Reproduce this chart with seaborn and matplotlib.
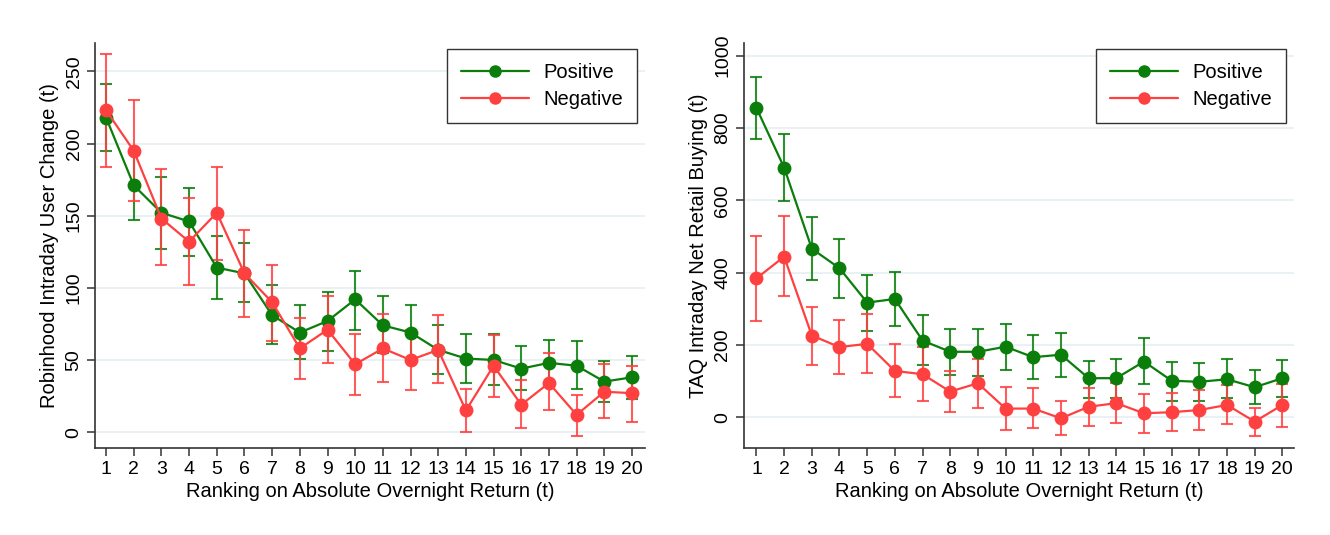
import numpy as np
import pandas as pd
import matplotlib
matplotlib.use("Agg")
import matplotlib.pyplot as plt
import seaborn as sns

# ---------------- data ----------------
ranks = list(range(1, 21))

rh_pos = [218, 171, 152, 146, 114, 110, 81, 69, 77, 92, 74, 69, 57, 51, 50, 44, 48, 46, 35, 38]
rh_pos_lo = [195, 147, 127, 122, 92, 90, 61, 51, 56, 71, 55, 50, 40, 34, 33, 29, 31, 30, 21, 23]
rh_pos_hi = [241, 195, 177, 169, 136, 131, 102, 88, 97, 112, 94, 88, 74, 68, 68, 60, 64, 63, 49, 53]
rh_neg = [223, 195, 148, 132, 152, 110, 90, 58, 71, 47, 58, 50, 57, 15, 46, 19, 34, 12, 28, 27]
rh_neg_lo = [184, 160, 116, 102, 119, 80, 63, 37, 48, 26, 35, 29, 34, 0, 24, 3, 15, -3, 10, 7]
rh_neg_hi = [262, 230, 182, 162, 184, 140, 116, 79, 94, 68, 82, 71, 81, 30, 67, 36, 55, 26, 47, 46]

taq_pos = [855, 690, 466, 412, 317, 327, 212, 181, 181, 195, 166, 173, 108, 108, 154, 101, 98, 105, 83, 108]
taq_pos_lo = [769, 598, 380, 331, 239, 253, 144, 117, 114, 131, 105, 112, 53, 54, 92, 46, 45, 53, 36, 57]
taq_pos_hi = [940, 782, 553, 494, 394, 401, 282, 245, 245, 258, 228, 232, 156, 162, 218, 154, 151, 160, 131, 158]
taq_neg = [384, 444, 226, 194, 203, 128, 119, 71, 94, 24, 24, -3, 29, 39, 11, 14, 20, 34, -12, 34]
taq_neg_lo = [266, 334, 145, 120, 123, 55, 45, 15, 26, -35, -30, -49, -23, -17, -43, -38, -35, -19, -52, -26]
taq_neg_hi = [502, 555, 306, 269, 285, 203, 194, 128, 161, 83, 80, 45, 80, 94, 65, 66, 76, 89, 25, 91]

series_names = ["Positive", "Negative"]
x_label = "Ranking on Absolute Overnight Return (t)"
y_label_left = "Robinhood Intraday User Change (t)"
y_label_right = "TAQ Intraday Net Retail Buying (t)"
yticks_left = [0, 50, 100, 150, 200, 250]
yticks_right = [0, 200, 400, 600, 800, 1000]

# ---------------- style ----------------
sns.set_theme(style="white")
plt.rcParams["font.family"] = ["Liberation Sans", "DejaVu Sans"]
plt.rcParams["text.color"] = "black"
plt.rcParams["axes.labelcolor"] = "black"
plt.rcParams["xtick.color"] = "black"
plt.rcParams["ytick.color"] = "black"

GREEN = "#0a7d0a"
RED = "#ff4040"
palette = {"Positive": GREEN, "Negative": RED}

fig = plt.figure(figsize=(13.3, 5.35), dpi=100)
ax1 = fig.add_axes([95 / 1330, 1 - 448 / 535, 550 / 1330, 405.5 / 535])
ax2 = fig.add_axes([744 / 1330, 1 - 448 / 535, 550 / 1330, 405.5 / 535])


def build_df(pos, pos_lo, pos_hi, neg, neg_lo, neg_hi):
    rows = []
    for name, v, lo, hi in [("Positive", pos, pos_lo, pos_hi), ("Negative", neg, neg_lo, neg_hi)]:
        for r, a, b, c in zip(ranks, v, lo, hi):
            rows.append({"rank": r, "value": a, "lo": b, "hi": c, "Sign": name})
    return pd.DataFrame(rows)


def draw(ax, df, ylabel, yticks, ylim, xlim):
    for name in series_names:
        sub = df[df["Sign"] == name]
        ax.errorbar(sub["rank"], sub["value"],
                    yerr=[sub["value"] - sub["lo"], sub["hi"] - sub["value"]],
                    fmt="none", ecolor=palette[name], elinewidth=1.5,
                    capsize=4.5, capthick=1.5, alpha=0.85, zorder=2)
    sns.lineplot(data=df, x="rank", y="value", hue="Sign", hue_order=series_names,
                 palette=palette, marker="o", markersize=10, markeredgewidth=0,
                 linewidth=1.6, ax=ax, legend=False, zorder=3)
    ax.set_xlim(*xlim)
    ax.set_ylim(*ylim)
    ax.set_xticks(ranks)
    ax.set_xticklabels([str(r) for r in ranks], fontsize=14)
    ax.set_yticks(yticks)
    ax.set_yticklabels([str(t) for t in yticks], fontsize=14, rotation=90, va="center")
    ax.set_xlabel(x_label, fontsize=14.5, labelpad=3)
    ax.set_ylabel(ylabel, fontsize=14.5, labelpad=5)
    for s in ["top", "right"]:
        ax.spines[s].set_visible(False)
    for s in ["left", "bottom"]:
        ax.spines[s].set_color("#333333")
        ax.spines[s].set_linewidth(1.2)
    ax.tick_params(axis="both", which="major", direction="out", length=6, width=1.1,
                   color="#333333", labelcolor="black", pad=3, bottom=True, left=True)
    ax.yaxis.grid(True, color="#e6eff2", linewidth=1.2)
    ax.xaxis.grid(False)
    ax.set_axisbelow(True)
    handles = [plt.Line2D([], [], color=palette[n], marker="o", markersize=9,
                          markeredgewidth=0, linewidth=1.6) for n in series_names]
    leg = ax.legend(handles, series_names, loc="upper right",
                    bbox_to_anchor=(0.986, 0.985), fontsize=14.5, frameon=True,
                    fancybox=False, edgecolor="#333333", framealpha=1,
                    handlelength=3.4, borderpad=0.7, labelspacing=0.4,
                    handletextpad=0.7, borderaxespad=0)
    leg.get_frame().set_linewidth(1.0)
    for t in leg.get_texts():
        t.set_color("black")


df_left = build_df(rh_pos, rh_pos_lo, rh_pos_hi, rh_neg, rh_neg_lo, rh_neg_hi)
df_right = build_df(taq_pos, taq_pos_lo, taq_pos_hi, taq_neg, taq_neg_lo, taq_neg_hi)

draw(ax1, df_left, y_label_left, yticks_left, (-11, 270), (0.6, 20.47))
draw(ax2, df_right, y_label_right, yticks_right, (-85, 1036), (0.55, 20.42))

fig.savefig("out.png", dpi=100, facecolor="white")
